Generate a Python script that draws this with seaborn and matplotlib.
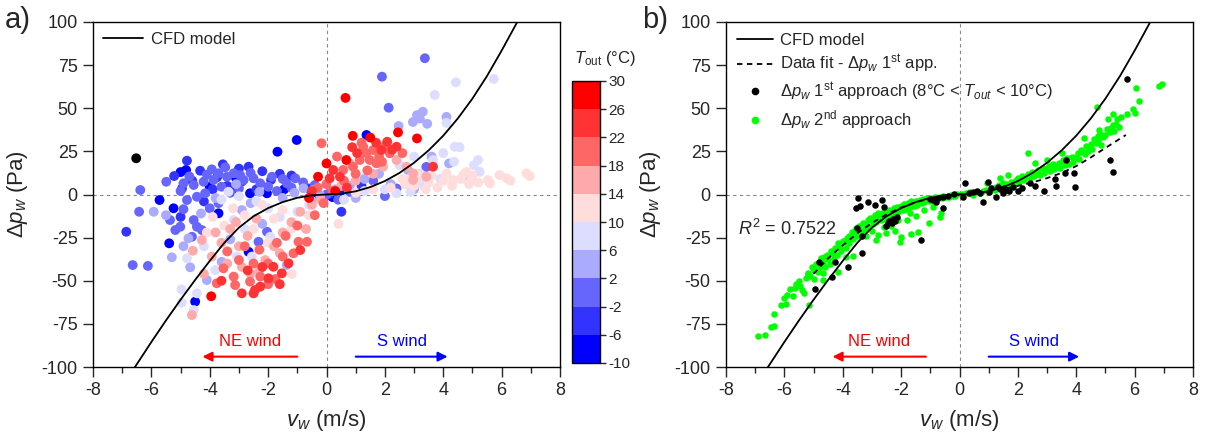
import matplotlib
matplotlib.use("Agg")
import matplotlib.pyplot as plt
import seaborn as sns
import pandas as pd
from matplotlib.colors import ListedColormap, BoundaryNorm
from matplotlib.cm import ScalarMappable
from matplotlib.lines import Line2D

# ---------------- data: panel a (points grouped by T_out band centre) ----------------
t_m12_vw = [-6.52]
t_m12_dp = [21.0]

t_m8_vw = [-1.02, -1.68, -5.72, -5.39, -5.24, -4.81, -4.50, -3.70, -2.67, -2.62,
           -2.04, 0.20, 0.45, 1.37, -4.00, -3.20, -1.45, -5.00, -3.10, -0.35]
t_m8_dp = [31.6, 24.8, -3.2, -28.3, -8.0, 14.2, -62.1, -10.9, -33.2, 0.7,
           0.7, -1.5, 0.5, 34.5, 4.5, 2.0, 3.0, 13.0, 9.5, 1.0]

t_m4_vw = [-4.78, -4.33, -5.22, -2.67, -6.86, -3.55, -3.00, -2.20, -1.60, -4.60,
           -3.90, -2.90, 0.51, -1.90, -4.20, -3.40, -5.00, 0.10, -0.60, 1.20,
           -2.40, -3.75, -4.95, -1.20]
t_m4_dp = [19.6, 13.8, 10.7, 16.1, -21.6, 17.5, 15.0, 13.5, 12.0, 8.0,
           3.0, 7.5, -10.0, 8.5, -4.0, 5.0, -13.0, 0.5, 3.5, 5.0,
           3.0, 10.0, 3.5, 11.0]

t_0_vw = [-6.38, -6.42, -6.64, -6.12, -5.49, -3.47, -3.93, -3.70, -3.87, -3.41,
          -3.18, -2.96, -2.84, -2.50, -2.27, -1.87, -1.36, -1.07, -4.90, -4.55,
          -4.21, -4.44, -4.78, -4.16, -5.36, -5.18, -5.01, -4.55, -4.44, -4.61,
          -4.27, -2.33, -2.04, 1.90, 3.37, 2.13, -5.00, -4.10, -3.60, -3.00,
          -2.00, -1.70, -1.20, -0.80, -4.70, -3.30, -4.00, -3.70, -4.90, 0.00,
          0.40, 1.60, 2.40, 4.71, 2.00, 3.42, -2.60, -1.50, -0.40, 0.80]
t_0_dp = [2.6, -10.0, -40.9, -41.4, 7.4, 15.8, 14.6, 12.3, 8.4, 10.3,
          12.3, 11.3, 8.4, 9.4, 6.5, 10.3, 6.5, 9.4, 6.5, 5.5,
          7.4, -1.3, -3.2, 0.7, -14.8, -20.6, -18.7, -14.8, -18.7, -24.5,
          -20.6, -27.4, -21.6, 68.3, 79.0, 50.3, 2.0, 11.5, 4.5, 3.5,
          4.5, 2.0, 4.0, 7.0, 10.5, 1.0, -8.0, -5.0, -8.5, 0.0,
          -3.0, 8.0, 3.5, 11.3, -0.9, 16.0, 12.5, 9.0, 5.5, 1.5]

t_4_vw = [-5.92, -5.30, -4.73, -4.67, -4.10, -3.59, -1.36, -0.79, -0.45, -0.22,
          3.10, 2.96, 3.20, 3.30, 4.11, 2.47, -3.10, -2.30, -1.50, -3.80,
          -4.30, -2.90, -2.60, -1.10, -0.50, 0.30, 0.80, 1.00, 1.80, 2.20,
          2.80, 3.60, 4.20, 3.00, -3.30, -2.20, -5.50, -4.90, 3.45, 1.30]
t_4_dp = [-10.0, -36.4, -25.4, -42.2, -49.6, -39.0, -40.9, 3.6, 2.6, -0.3,
          46.0, 42.0, 44.0, 48.0, 45.0, 39.7, 6.0, 1.5, -2.0, -2.0,
          -11.0, -9.0, -5.0, 1.0, -4.0, 3.0, 5.0, -2.0, 12.0, 6.0,
          14.0, 22.0, 18.0, 3.0, -26.0, -17.0, -12.0, -30.0, 41.0, 9.0]

t_8_vw = [4.43, 5.73, 3.71, 4.11, 3.65, 4.37, 5.19, 5.05, 5.25, 2.88,
          2.40, 4.39, 4.56, -4.78, -4.96, -4.55, -4.44, -3.81, -3.36, -3.18,
          -3.07, -2.56, -1.93, -3.60, -3.00, -2.40, -2.00, -1.60, -1.00, -0.60,
          0.60, 1.30, 2.00, 3.30, 3.90, 3.00, 2.50, -4.20, -2.80, -4.97,
          4.00, 3.20]
t_8_dp = [65.0, 67.0, 57.7, 41.5, 20.0, 19.0, 20.0, 17.0, 13.2, 1.6,
          0.7, 27.7, 27.4, -37.0, -62.7, -67.0, -57.3, -43.8, 1.6, -14.8,
          -36.0, -36.0, -24.5, -3.0, -1.0, -4.0, -8.0, -13.0, -10.0, -6.0,
          -3.0, 2.0, 3.0, 6.0, 9.0, 22.0, 17.0, -30.0, -20.0, -55.0,
          24.0, 12.0]

t_12_vw = [5.93, 6.18, 6.85, 6.96, 5.53, 4.97, 4.88, 4.11, 4.34, 4.68,
           0.41, -1.19, 3.00, 3.50, 3.80, 4.00, 2.60, 3.20, 2.20, 1.60,
           1.00, -3.50, -3.20, -2.80, -2.50, -2.20, -1.80, -1.50, -3.90, -4.10,
           -2.00, -1.20, -0.60, 2.70, 3.10, 3.60, 4.30, 4.60, 5.00, 5.20,
           3.40, 2.90, 4.80, 5.60, 6.30]
t_12_dp = [11.3, 9.4, 12.3, 10.7, 8.4, 8.8, 6.1, 12.2, 8.4, 11.3,
           -17.0, -46.1, 5.0, 7.0, 4.0, 8.0, 9.0, 10.0, 4.0, 3.0,
           1.0, -18.0, -8.0, -12.0, -20.0, -6.0, -14.0, -9.0, -13.0, -22.0,
           -28.0, -20.0, -12.0, 6.0, 12.0, 11.0, 5.0, 9.0, 11.0, 7.0,
           3.0, 10.0, 13.0, 6.5, 8.0]

t_16_vw = [-4.58, -4.27, -3.93, -4.61, 2.97, 3.42, 2.40, 2.74, 2.97, 1.94,
           -3.60, -3.30, -3.00, -2.70, -2.40, -2.10, -1.80, -1.50, -1.20, -0.90,
           -0.50, -3.80, -3.40, -2.90, -2.30, -1.60, -0.20, 0.50, 1.00, 1.60,
           0.80, -0.70, -2.60, -4.20, -3.10]
t_16_dp = [-32.6, -26.4, -36.0, -69.9, 8.4, 10.3, 20.0, 16.1, 12.2, 16.1,
           -28.0, -20.0, -30.0, -24.0, -14.0, -38.0, -30.0, -22.0, -16.0, -10.0,
           -6.0, -22.0, -40.0, -42.0, -44.0, -34.0, -3.0, 5.0, 8.0, 12.0,
           18.0, -20.0, -46.0, -46.0, -16.0]

t_20_vw = [-3.76, -3.53, -3.18, -3.13, -2.62, -2.27, -1.13, -0.96, -0.67, -2.00,
           -2.50, -3.00, -2.80, -2.30, -1.70, -1.40, -1.00, -0.40, -0.10, 0.20,
           0.60, 0.57, 0.91, 1.14, 1.26, 1.71, 2.17, 1.37, 1.60, 1.48,
           1.00, 1.40, 1.80, 2.00, 1.20, -0.17, 0.36, -3.40, -2.00, -1.75,
           -1.50, 0.00, -0.30, 2.60, 1.90]
t_20_dp = [-51.5, -42.8, -47.6, -52.5, -50.5, -47.6, -34.1, -27.4, -27.4, -40.0,
           -40.0, -38.0, -30.0, -32.0, -28.0, -24.0, -18.0, -12.0, -5.0, 2.0,
           8.0, 14.2, 16.1, 20.0, 27.7, 18.1, 23.9, 23.9, 25.8, 20.0,
           12.0, 14.0, 22.0, 28.0, 30.0, 29.7, 22.0, -33.0, -52.0, -49.0,
           -36.0, 6.0, 4.0, 24.0, 19.0]

t_24_vw = [-2.90, -2.50, -2.45, -2.27, -1.99, -1.82, -1.53, -1.30, -0.90, 0.23,
           0.46, 0.11, 1.88, 2.40, 3.65, 0.88, 2.08, -2.70, -2.20, -1.60,
           0.70, -0.50, 1.70, 2.25, 1.05, -3.60]
t_24_dp = [-57.3, -57.3, -55.4, -53.4, -48.6, -41.9, -45.7, -39.9, -32.2, 14.2,
           10.3, 9.4, 25.8, 27.7, 16.1, 27.4, 30.6, -44.0, -42.0, -52.0,
           4.0, 2.0, 30.0, 26.0, 24.0, -50.0]

t_28_vw = [-0.29, 0.00, 0.68, 0.65, 1.50, 2.45, 3.10, -3.95, 0.90, 0.30, -0.60]
t_28_dp = [10.3, 18.0, 20.0, 56.0, 33.0, 36.0, 32.5, -59.0, 34.0, 2.0, -2.0]

# ---------------- CFD model curve and data fit ----------------
cfd_vw = [-6.6, -6.0, -5.5, -5.0, -4.5, -4.0, -3.5, -3.0, -2.5, -2.0, -1.5, -1.0, -0.5, 0.0,
          0.5, 1.0, 1.5, 2.0, 2.5, 3.0, 3.5, 4.0, 4.5, 5.0, 5.5, 6.0, 6.6]
cfd_dp = [-101, -85.5, -73, -61, -49.5, -38.5, -28.0, -19.2, -12.6, -7.9, -4.4, -1.9, -0.45, 0,
          0.45, 1.86, 4.29, 7.8, 12.5, 18.4, 25.6, 34.1, 44.1, 55.6, 68.7, 83.4, 102]

fit_vw = [-5.0, -4.5, -4.0, -3.5, -3.0, -2.5, -2.0, -1.5, -1.0, -0.5, 0.0,
          0.5, 1.0, 1.5, 2.0, 2.5, 3.0, 3.5, 4.0, 4.5, 5.0, 5.7]
fit_dp = [-46, -37, -29.5, -22.5, -16.5, -11.5, -7.5, -4.5, -2.2, -0.8, 0,
          0.8, 1.8, 3.2, 5, 7, 9.5, 12.5, 16.5, 21.5, 27, 34.5]

# ---------------- panel b: 1st approach (black) ----------------
b1_vw = [5.74, 5.17, 5.25, 3.65, 3.63, 3.92, 3.96, 3.28, 3.31, 2.89,
         2.60, 2.42, 2.15, 1.83, 1.52, 1.48, 1.31, 1.26, 1.08, 0.97,
         0.80, 0.59, 0.34, 0.19, 0.11, -0.57, -0.80, -0.91, -0.55, -3.48,
         -3.56, -3.42, -3.14, -2.91, -2.65, -2.60, -2.15, -2.28, -2.45, -2.53,
         -2.30, -3.52, -3.33, -1.31, -3.33, -4.82, -4.25, -3.81, -4.37, -4.94,
         1.60, 1.70, 1.40, 1.00, 0.70, -0.40, -0.20, -1.00, -0.75, 2.00,
         0.45, -2.40, -2.20]
b1_dp = [67.0, 20.0, 13.2, 20.0, 12.7, 12.3, 4.5, 8.8, 5.1, 2.2,
         4.9, 6.9, 3.6, 4.2, 3.6, 1.1, 4.5, -1.3, 3.9, 7.4,
         -4.2, 2.2, 0.7, 6.9, -1.3, -1.3, -4.2, -3.2, -8.0, -2.2,
         -8.0, -6.7, -4.2, -6.1, -3.2, -7.0, -12.9, -14.4, -16.7, -18.3,
         -16.7, -19.6, -24.0, -26.4, -34.0, -39.0, -39.3, -42.2, -47.7, -55.0,
         2.8, 1.8, 3.2, 1.2, 1.0, -1.0, 0.2, -2.5, -2.0, 2.0,
         1.5, -15.2, -15.5]

# ---------------- panel b: 2nd approach (green) ----------------
b2_vw = [-6.91, -6.66, -6.45, -6.37, -6.34, -6.11, -5.94, -5.71, -5.40, -5.34,
         -5.46, -5.17, -5.27, -5.11, -4.97, -4.79, -4.68, -4.51, -4.34, -4.11,
         -3.94, -3.77, -3.60, -3.42, -3.20, -2.97, -2.74, -2.51, -2.28, -2.05,
         -1.83, -1.60, -1.37, -1.14, -0.91, -0.68, -0.46, -0.23,
         -5.60, -5.50, -5.20, -5.00, -4.90, -4.85, -4.75, -4.60, -4.55, -4.45,
         -4.40, -4.30, -4.25, -4.20, -4.15, -4.05, -4.00, -3.90, -3.85, -3.80,
         -3.70, -3.65, -3.55, -3.50, -3.45, -3.35, -3.30, -3.25, -3.15, -3.10,
         -3.05, -2.95, -2.90, -2.85, -2.80, -2.70, -2.65, -2.60, -2.55, -2.45,
         -2.40, -2.35, -2.25, -2.20, -2.15, -2.10, -2.00, -1.95, -1.90, -1.85,
         -1.75, -1.70, -1.65, -1.55, -1.50, -1.45, -1.35, -1.30, -1.25, -1.20,
         -1.10, -1.05, -1.00, -0.95, -0.85, -0.80, -0.75, -0.60, -0.55, -0.35,
         -0.30, -0.15, -0.10, -5.80, -6.00, -5.90, -5.65, -5.05, -4.65,
         -2.85, -2.80, -2.51, -2.05, -2.00, -1.66, -1.43, -1.03, -0.68, -0.63,
         -3.88, -3.65, -4.17, -4.68, -4.68, -5.19, -2.35, -1.80, -2.10, -1.50,
         -1.20, -3.20, -3.00, -2.60, -0.90, -1.70, -2.20,
         0.23, 0.57, 0.91, 1.26, 1.60, 1.94, 2.28, 2.63, 2.97, 3.31,
         3.65, 4.00, 4.22, 4.45, 4.68, 4.91, 5.14, 5.31, 5.08, 5.54,
         5.73, 5.96, 6.16, 6.05, 6.85, 6.94, 4.70, 2.34,
         0.10, 0.35, 0.45, 0.70, 0.80, 1.00, 1.10, 1.20, 1.35, 1.45,
         1.50, 1.70, 1.75, 1.85, 2.00, 2.05, 2.15, 2.20, 2.35, 2.40,
         2.50, 2.55, 2.70, 2.75, 2.85, 2.90, 3.05, 3.10, 3.20, 3.25,
         3.40, 3.45, 3.55, 3.60, 3.70, 3.75, 3.85, 3.90, 4.05, 4.10,
         4.15, 4.30, 4.35, 4.40, 4.50, 4.55, 4.60, 4.75, 4.80, 4.85,
         5.00, 5.05, 5.20, 5.25, 5.35, 5.45, 1.65, 1.40, 0.95, 2.60,
         3.00, 3.50, 4.25, 4.74, 4.79, 5.40, 5.25, 6.00]
b2_dp = [-82.0, -81.4, -76.6, -76.0, -69.3, -64.0, -63.7, -58.8, -55.4, -57.3,
         -52.8, -64.0, -48.6, -47.2, -43.8, -41.8, -39.9, -37.6, -34.1, -30.2,
         -27.3, -24.0, -21.5, -20.6, -17.7, -14.8, -12.9, -11.3, -10.0, -8.0,
         -6.7, -5.1, -4.2, -3.2, -2.8, -1.6, -1.3, -0.7,
         -52.0, -50.0, -46.0, -49.0, -40.0, -45.0, -37.0, -42.0, -35.0, -40.0,
         -33.0, -37.0, -31.0, -35.0, -28.0, -33.0, -27.0, -31.0, -25.0, -28.0,
         -22.0, -26.0, -19.5, -24.0, -18.0, -22.0, -16.5, -20.0, -15.0, -19.0,
         -13.5, -17.0, -12.0, -16.0, -10.5, -15.0, -11.0, -14.0, -9.5, -13.0,
         -9.0, -12.0, -8.0, -11.0, -7.0, -10.0, -6.5, -9.0, -5.5, -8.5,
         -5.0, -7.5, -4.0, -6.5, -3.5, -6.0, -3.0, -5.0, -2.5, -4.5,
         -2.0, -4.0, -2.2, -3.5, -1.5, -3.0, -1.8, -2.2, -0.8, -1.5,
         -0.3, -1.0, 0.2, -55.0, -60.0, -58.0, -54.0, -42.0, -36.0,
         -26.4, -23.5, -22.5, -27.3, -24.4, -22.9, -21.5, -16.7, -12.9, -10.9,
         -36.0, -35.7, -44.7, -45.7, -49.6, -45.7, -18.5, -15.0, -14.5, -12.5,
         -9.0, -24.0, -21.0, -19.0, -7.5, -11.0, -21.0,
         0.7, 1.6, 2.6, 4.5, 6.1, 8.4, 10.3, 12.3, 14.6, 16.5,
         19.0, 21.9, 24.8, 27.3, 30.0, 33.5, 36.4, 37.0, 43.8, 44.7,
         46.7, 49.4, 54.2, 61.5, 62.9, 64.0, 51.0, 24.3,
         0.3, 1.2, -0.2, 0.8, 2.2, 1.5, 3.6, 2.5, 5.5, 3.5,
         6.8, 5.0, 7.5, 6.0, 9.5, 7.0, 11.0, 8.5, 12.0, 9.5,
         13.0, 10.5, 14.0, 11.5, 15.5, 12.5, 16.5, 13.5, 17.5, 14.5,
         18.5, 15.5, 20.0, 17.0, 21.0, 17.5, 22.0, 19.0, 24.0, 20.5,
         26.0, 23.5, 28.0, 25.0, 29.5, 26.5, 32.0, 31.5, 35.0, 28.5,
         34.5, 38.0, 38.5, 40.5, 41.0, 39.0, 11.5, 9.5, 6.8, 18.0,
         20.0, 24.0, 33.0, 33.9, 37.4, 44.0, 46.5, 47.5]

# ---------------- colour scale ----------------
t_bounds = [-10, -6, -2, 2, 6, 10, 14, 18, 22, 26, 30]
t_colors = ["#0000FF", "#3333FF", "#6666FF", "#AAAAFF", "#DDDDFF",
            "#FFDDDD", "#FFAAAA", "#FF6666", "#FF3333", "#FF0000"]

# ---------------- build frames ----------------
bands = [(-12, t_m12_vw, t_m12_dp), (-8, t_m8_vw, t_m8_dp), (-4, t_m4_vw, t_m4_dp),
         (0, t_0_vw, t_0_dp), (4, t_4_vw, t_4_dp), (8, t_8_vw, t_8_dp),
         (12, t_12_vw, t_12_dp), (16, t_16_vw, t_16_dp), (20, t_20_vw, t_20_dp),
         (24, t_24_vw, t_24_dp), (28, t_28_vw, t_28_dp)]
rows = []
for t, xs, ys in bands:
    for xv, yv in zip(xs, ys):
        rows.append((xv, yv, t))
df_a = pd.DataFrame(rows, columns=["vw", "dp", "T"])
palette = {-12: "black"}
for i, t in enumerate(range(-8, 29, 4)):
    palette[t] = t_colors[i]

df_b1 = pd.DataFrame({"vw": b1_vw, "dp": b1_dp})
df_b2 = pd.DataFrame({"vw": b2_vw, "dp": b2_dp})

# ---------------- style ----------------
sns.set_style("ticks")
plt.rcParams["font.family"] = ["Liberation Sans", "DejaVu Sans"]
plt.rcParams["mathtext.fontset"] = "custom"
plt.rcParams["mathtext.rm"] = "Liberation Sans"
plt.rcParams["mathtext.it"] = "Liberation Sans:italic"
plt.rcParams["mathtext.bf"] = "Liberation Sans:bold"
plt.rcParams["axes.linewidth"] = 1.0
plt.rcParams["axes.unicode_minus"] = False

fig = plt.figure(figsize=(12.05, 4.42), dpi=100)
ax_a = fig.add_axes([93 / 1205, 1 - 367 / 442, 467 / 1205, 345 / 442])
cax = fig.add_axes([572 / 1205, 1 - 363 / 442, 28 / 1205, 282 / 442])
ax_b = fig.add_axes([726 / 1205, 1 - 367 / 442, 467 / 1205, 345 / 442])

zero_style = dict(color="#888888", lw=0.8, ls=(0, (3, 3)), zorder=0)


def style_axes(ax):
    ax.set_xlim(-8, 8)
    ax.set_ylim(-100, 100)
    ax.set_xticks(range(-8, 9, 2))
    ax.set_xticks(range(-7, 8, 2), minor=True)
    ax.set_yticks(range(-100, 101, 25))
    ax.tick_params(axis="both", which="major", direction="out", length=7, width=1,
                   labelsize=13, pad=4)
    ax.tick_params(axis="x", which="minor", direction="out", length=4, width=1)
    for s in ax.spines.values():
        s.set_visible(True)
        s.set_color("black")
        s.set_linewidth(1.0)
    ax.axhline(0, **zero_style)
    ax.axvline(0, **zero_style)


def label_axes(ax):
    ax.set_xlabel("$v_w$ (m/s)", fontsize=16)
    ax.set_ylabel("Δ$p_w$ (Pa)", fontsize=16)
    ax.xaxis.set_label_coords(0.5, -0.12)
    ax.yaxis.set_label_coords(-0.135, 0.5)


def wind_arrows(ax, ne_from, ne_to, s_from, s_to):
    ax.annotate("", xy=(ne_to, -94), xytext=(ne_from, -94),
                arrowprops=dict(arrowstyle="-|>", color="#FF0000", lw=1.5,
                                mutation_scale=14, shrinkA=0, shrinkB=0))
    ax.annotate("", xy=(s_to, -94), xytext=(s_from, -94),
                arrowprops=dict(arrowstyle="-|>", color="#0000FF", lw=1.5,
                                mutation_scale=14, shrinkA=0, shrinkB=0))
    ax.text((ne_from + ne_to) / 2, -85.5, "NE wind", color="#FF0000", fontsize=12,
            ha="center", va="center")
    ax.text((s_from + s_to) / 2, -85.5, "S wind", color="#0000FF", fontsize=12,
            ha="center", va="center")


# ---------------- panel a ----------------
style_axes(ax_a)
sns.scatterplot(data=df_a, x="vw", y="dp", hue="T", palette=palette, s=50,
                linewidth=0, legend=False, ax=ax_a, zorder=2)
sns.lineplot(x=cfd_vw, y=cfd_dp, color="black", lw=1.3, ax=ax_a, sort=False,
             estimator=None, zorder=3)
label_axes(ax_a)
wind_arrows(ax_a, -1.0, -4.25, 1.0, 4.15)
ax_a.legend(handles=[Line2D([], [], color="black", lw=1.3)], labels=["CFD model"],
            loc="upper left", bbox_to_anchor=(0.0, 1.0), frameon=False, fontsize=12,
            handlelength=2.4, handletextpad=0.5, borderaxespad=0.2)

# colour bar
cmap = ListedColormap(t_colors)
cmap.set_under("black")
norm = BoundaryNorm(t_bounds, cmap.N)
cb = fig.colorbar(ScalarMappable(norm=norm, cmap=cmap), cax=cax, ticks=t_bounds)
cb.ax.tick_params(labelsize=11, length=4, width=1, direction="out", pad=2)
cb.outline.set_linewidth(1.0)
cb.outline.set_edgecolor("black")
fig.text(574 / 1205, 1 - 58 / 442, r"$T_{\mathrm{out}}$ (°C)", fontsize=12,
         ha="left", va="center")

# ---------------- panel b ----------------
style_axes(ax_b)
sns.scatterplot(data=df_b2, x="vw", y="dp", color="#00FF00", s=22, linewidth=0,
                ax=ax_b, zorder=2)
sns.scatterplot(data=df_b1, x="vw", y="dp", color="black", s=22, linewidth=0,
                ax=ax_b, zorder=3)
sns.lineplot(x=cfd_vw, y=cfd_dp, color="black", lw=1.3, ax=ax_b, sort=False,
             estimator=None, zorder=4)
sns.lineplot(x=fit_vw, y=fit_dp, color="black", lw=1.3, ls=(0, (3, 2.5)), ax=ax_b,
             sort=False, estimator=None, zorder=4)
label_axes(ax_b)
wind_arrows(ax_b, -1.15, -4.35, 1.0, 4.1)
ax_b.text(-7.6, -20, r"$R^{\mathrm{2}}$ = 0.7522", fontsize=13, ha="left", va="center")

handles_b = [Line2D([], [], color="black", lw=1.3),
             Line2D([], [], color="black", lw=1.3, ls=(0, (3, 2.5))),
             Line2D([], [], color="black", marker="o", ms=4.5, ls="none"),
             Line2D([], [], color="#00FF00", marker="o", ms=4.5, ls="none")]
labels_b = ["CFD model",
            r"Data fit - Δ$p_w$ 1$^{\mathrm{st}}$ app.",
            r"Δ$p_w$ 1$^{\mathrm{st}}$ approach (8°C < $T_{out}$ < 10°C)",
            r"Δ$p_w$ 2$^{\mathrm{nd}}$ approach"]
ax_b.legend(handles=handles_b, labels=labels_b, loc="upper left",
            bbox_to_anchor=(0.0, 1.0), frameon=False, fontsize=12, handlelength=2.2,
            handletextpad=0.4, borderaxespad=0.25, labelspacing=0.3)

fig.text(5 / 1205, 1 - 20 / 442, "a)", fontsize=21, ha="left", va="center")
fig.text(642 / 1205, 1 - 20 / 442, "b)", fontsize=21, ha="left", va="center")

fig.savefig("out.png", dpi=100)
